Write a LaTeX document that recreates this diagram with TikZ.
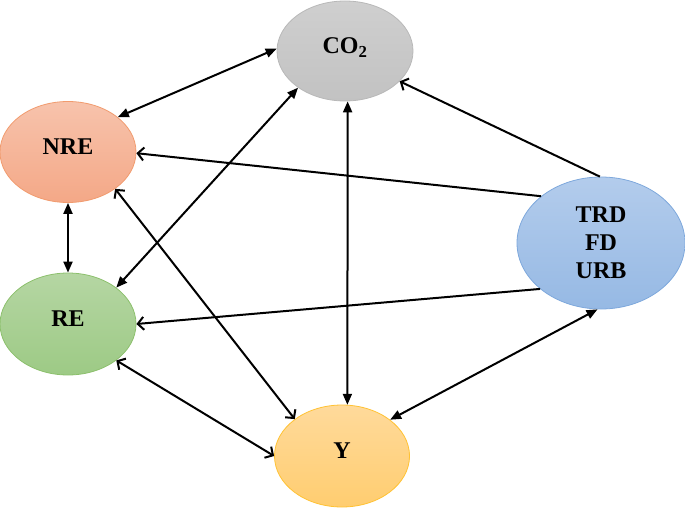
\documentclass[tikz,border=0pt]{standalone}
\usepackage{fontspec}
\setmainfont{Liberation Serif}
\usetikzlibrary{shapes.geometric,arrows.meta}

\definecolor{co2top}{HTML}{CFCFCF}
\definecolor{co2bot}{HTML}{C2C2C2}
\definecolor{co2line}{HTML}{B8B8B8}
\definecolor{nretop}{HTML}{F7C3AC}
\definecolor{nrebot}{HTML}{F4A887}
\definecolor{nreline}{HTML}{F19B6E}
\definecolor{retop}{HTML}{B5D6A3}
\definecolor{rebot}{HTML}{9DCA85}
\definecolor{reline}{HTML}{8CC06C}
\definecolor{ytop}{HTML}{FFDA9B}
\definecolor{ybot}{HTML}{FFCD70}
\definecolor{yline}{HTML}{FFC233}
\definecolor{trdtop}{HTML}{B3CCEC}
\definecolor{trdbot}{HTML}{96B9E4}
\definecolor{trdline}{HTML}{7EA8DC}

\begin{document}
\begin{tikzpicture}[x=1pt, y=-1pt,
		var/.style={ellipse, line width=0.8pt, inner sep=0pt, text depth=11pt,
			font=\fontsize{24}{28}\selectfont\bfseries},
		both/.style={{Triangle[length=11pt,width=9pt]}-{Triangle[length=11pt,width=9pt]}, line width=2pt},
		open/.style={-{Straight Barb[length=6pt,width=13pt,line width=2pt]}, line width=2pt},
		openboth/.style={{Straight Barb[length=6pt,width=13pt,line width=2pt]}-{Straight Barb[length=6pt,width=13pt,line width=2pt]}, line width=2pt}]
		\useasboundingbox (0, 0) rectangle (685, 508);

		% variables
		\node[var, draw=co2line, top color=co2top, bottom color=co2bot, minimum width=136pt, minimum height=100pt] (co2) at (345, 51) {CO\textsubscript{2}};
		\node[var, draw=nreline, top color=nretop, bottom color=nrebot, minimum width=136pt, minimum height=101pt] (nre) at (68, 152) {NRE};
		\node[var, draw=reline, top color=retop, bottom color=rebot, minimum width=136pt, minimum height=102pt] (re) at (68, 324) {RE};
		\node[var, draw=yline, top color=ytop, bottom color=ybot, minimum width=135pt, minimum height=102pt] (y) at (342, 456) {Y};
		\node[var, draw=trdline, top color=trdtop, bottom color=trdbot, minimum width=168pt, minimum height=132pt, align=center, text depth=0pt] (trd) at (601, 243) {TRD\\FD\\URB};

		% links
		\draw[both] (nre.35) -- (co2.178);
		\draw[both] (re.37) -- (co2.218);
		\draw[both] (co2.273) -- (y.84);
		\draw[both] (nre.south) -- (re.north);
		\draw[both] (trd.267) -- (y.37);
		\draw[open] (trd.91) -- (co2.331);
		\draw[open] (trd.142) -- (nre.359);
		\draw[open] (trd.217) -- (re.0);
		\draw[openboth] (nre.322) -- (y.142);
		\draw[openboth] (re.323) -- (y.180);
	\end{tikzpicture}
\end{document}
